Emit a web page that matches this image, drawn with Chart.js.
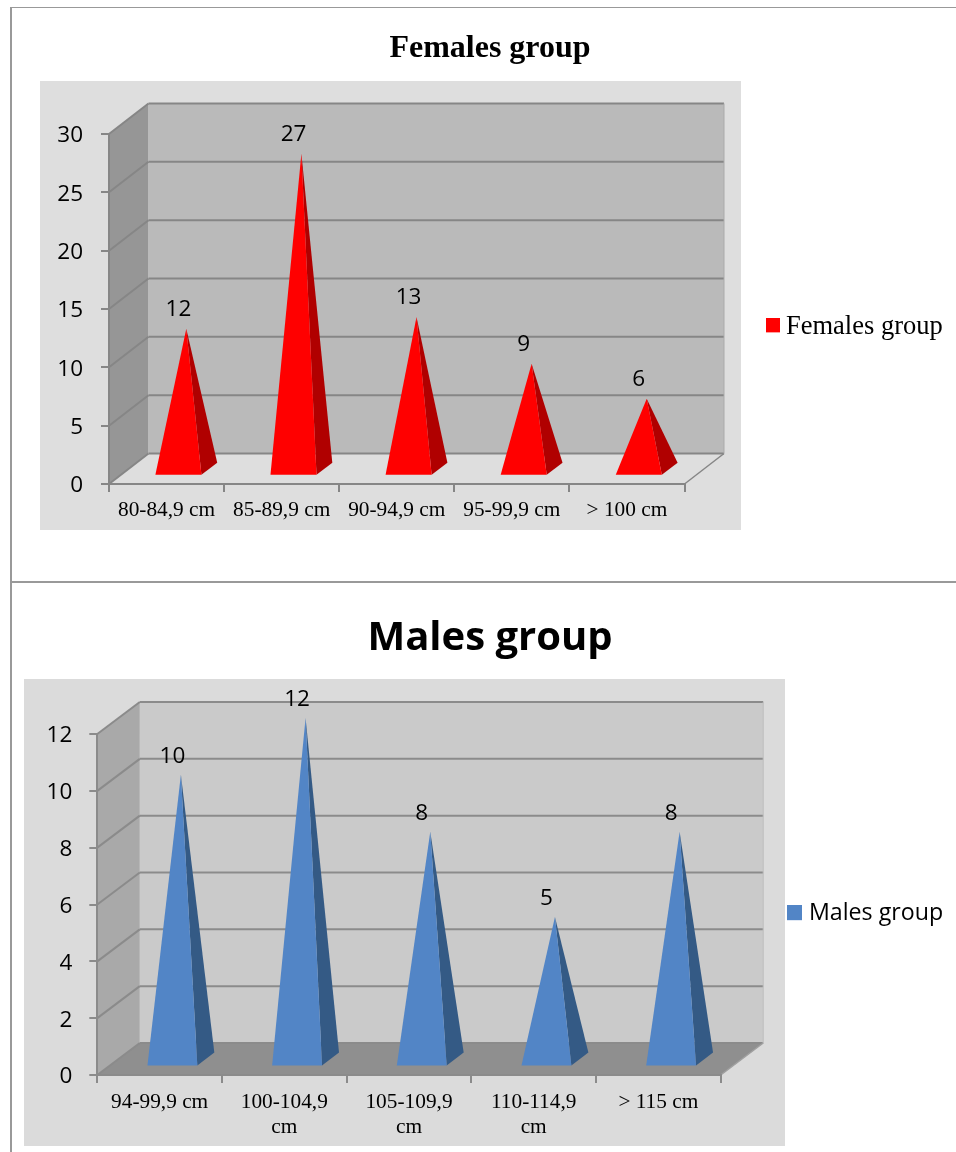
<!DOCTYPE html>
<html><head><meta charset="utf-8">
<style>
html,body{margin:0;padding:0;background:#fff;width:956px;height:1152px;overflow:hidden}
canvas{position:absolute;left:0}
.b{position:absolute;background:#999}
</style>
<script src="https://cdn.jsdelivr.net/npm/chart.js@4"></script>
</head><body>
<div class="b" style="left:10px;top:7px;width:946px;height:1px"></div>
<div class="b" style="left:10px;top:7px;width:2px;height:1145px"></div>
<div class="b" style="left:10px;top:581px;width:946px;height:2px"></div>
<canvas id="c1" width="956" height="581" style="top:0"></canvas>
<canvas id="c2" width="956" height="568" style="top:584px"></canvas>
<script>
const femaleCategories = ['80-84,9 cm','85-89,9 cm','90-94,9 cm','95-99,9 cm','> 100 cm'];
const femaleValues = [12,27,13,9,6];
const maleCategories = ['94-99,9 cm',['100-104,9','cm'],['105-109,9','cm'],['110-114,9','cm'],'> 115 cm'];
const maleValues = [10,12,8,5,8];

const SERIF = '"Liberation Serif"', SANS = '"Open Sans"';

const pyramid3d = {
  id:'pyramid3d',
  beforeDraw(chart, args, o){
    const {ctx, chartArea:a, scales:{y}} = chart;
    const poly = (pts, fill) => { ctx.beginPath(); pts.forEach((p,i)=> i?ctx.lineTo(p[0],p[1]):ctx.moveTo(p[0],p[1])); ctx.closePath(); ctx.fillStyle=fill; ctx.fill(); };
    const line = (x1,y1,x2,y2) => { ctx.beginPath(); ctx.moveTo(x1,y1); ctx.lineTo(x2,y2); ctx.stroke(); };
    ctx.save();
    ctx.fillStyle = o.panelColor; ctx.fillRect(...o.panel);
    const dx=o.dx, dy=o.dy;
    poly([[a.left,a.top],[a.left+dx,a.top+dy],[a.left+dx,a.bottom+dy],[a.left,a.bottom]], o.sideColor);
    poly([[a.left+dx,a.top+dy],[a.right+dx,a.top+dy],[a.right+dx,a.bottom+dy],[a.left+dx,a.bottom+dy]], o.backColor);
    poly([[a.left,a.bottom],[a.left+dx,a.bottom+dy],[a.right+dx,a.bottom+dy],[a.right,a.bottom]], o.floorColor);
    ctx.strokeStyle=o.gridColor; ctx.lineWidth=2;
    y.ticks.forEach(t=>{
      const py=y.getPixelForValue(t.value);
      line(a.left,py,a.left+dx,py+dy);
      line(a.left+dx,py+dy,a.right+dx,py+dy);
    });
    ctx.lineWidth=1.5; ctx.strokeStyle=o.edgeColor;
    line(a.right,a.bottom,a.right+dx,a.bottom+dy);
    ctx.lineWidth=1; ctx.strokeStyle=o.wallEdge;
    line(a.right+dx,a.top+dy,a.right+dx,a.bottom+dy);
    ctx.restore();
  },
  beforeDatasetDraw(chart, args, o){
    const {ctx, scales:{y}} = chart, meta=args.meta, ds=chart.data.datasets[args.index];
    const dx=o.dx, dy=o.dy, y0=y.getPixelForValue(0);
    ctx.save();
    meta.data.forEach((el,i)=>{
      const v=ds.data[i], hw=el.width/2, cx=el.x;
      const fl=[cx-hw+.3*dx, y0+.3*dy], fr=[cx+hw+.3*dx, y0+.3*dy], br=[cx+hw+.7*dx, y0+.7*dy];
      const apex=[cx+.5*dx, y.getPixelForValue(v)+.5*dy];
      ctx.fillStyle=o.barSide; ctx.beginPath(); ctx.moveTo(...fr); ctx.lineTo(...br); ctx.lineTo(...apex); ctx.closePath(); ctx.fill();
      ctx.fillStyle=o.barFront; ctx.beginPath(); ctx.moveTo(...fl); ctx.lineTo(...fr); ctx.lineTo(...apex); ctx.closePath(); ctx.fill();
      ctx.fillStyle='#000'; ctx.font=o.labelFont; ctx.textAlign='center'; ctx.textBaseline='middle';
      ctx.fillText(String(v), cx+.3*dx, apex[1]-o.labelGap);
    });
    ctx.restore();
    return false;
  },
  afterLayout(chart, args, o){
    const t=chart.titleBlock, l=chart.legend;
    const h=t.height; t.left=0; t.right=o.titleCx*2; t.top=o.titleCy-h/2; t.bottom=t.top+h;
    const pad=l.options.labels.padding, lh=l.options.labels.font.size*1.2;
    l.left=o.legendX-pad; l.right=l.left+400; l.top=o.legendCy-lh/2-pad; l.bottom=l.top+100;
    const s=chart.scales.y;
    if(!s._nudged){
      s._nudged=true;
      const orig=s.drawLabels.bind(s);
      s.drawLabels=function(area){ chart.ctx.save(); chart.ctx.translate(0,o.yLabelShift); orig(area); chart.ctx.restore(); };
    }
  }
};

// Legend marker: square at the right of a slightly wider transparent canvas, so the gap to the text can be tuned.
function squareStyle(color,size,shiftY){
  const c=document.createElement('canvas'); c.width=size+2; c.height=size+Math.abs(shiftY)*2;
  const g=c.getContext('2d'); g.fillStyle=color; g.fillRect(2,(c.height-size)/2+shiftY,size,size); return c;
}

function build(id, cats, vals, cfg){
  const gap=cfg.textX-cfg.squareX, W=cfg.square+2, w=W+2*(gap-cfg.square-cfg.legendSize/2);
  return new Chart(document.getElementById(id),{
    type:'bar',
    data:{labels:cats,datasets:[{label:cfg.name,data:vals,backgroundColor:cfg.barFront,barPercentage:1,categoryPercentage:.4}]},
    plugins:[pyramid3d],
    options:{
      responsive:false,animation:false,devicePixelRatio:1,
      layout:{padding:{left:0,right:956-cfg.right,top:cfg.top-cfg.titleSize,bottom:0}},
      scales:{
        x:{
          afterFit:s=>{s.height=cfg.height-cfg.bottom},
          grid:{drawOnChartArea:false,color:cfg.gridColor,lineWidth:2,tickLength:8},
          border:{color:cfg.gridColor,width:2},
          ticks:{color:'#000',font:{family:SERIF,size:21.33,lineHeight:1.17},padding:cfg.xPad,maxRotation:0,minRotation:0,autoSkip:false}
        },
        y:{
          min:0,max:cfg.max,
          afterFit:s=>{s.width=cfg.left},
          grid:{drawOnChartArea:false,color:cfg.gridColor,lineWidth:2,tickLength:8},
          border:{color:cfg.gridColor,width:2},
          ticks:{color:'#000',stepSize:cfg.step,font:{family:SANS,size:22.5},padding:cfg.yPad}
        }
      },
      plugins:{
        tooltip:{enabled:false},
        title:{display:true,text:cfg.name,color:'#000',padding:0,font:{family:cfg.titleFamily,size:cfg.titleSize,weight:'bold',lineHeight:1}},
        legend:{display:true,position:'chartArea',align:'start',labels:{
          usePointStyle:true,pointStyle:squareStyle(cfg.barFront,cfg.square,cfg.squareShift),pointStyleWidth:w,
          boxHeight:cfg.square,color:'#000',padding:12,font:{family:cfg.legendFamily,size:cfg.legendSize}
        }},
        pyramid3d:{
          panel:cfg.panel,panelColor:cfg.panelColor,backColor:cfg.backColor,sideColor:cfg.sideColor,floorColor:cfg.floorColor,
          gridColor:cfg.gridColor,edgeColor:cfg.edgeColor,wallEdge:cfg.wallEdge,dx:cfg.dx,dy:cfg.dy,
          barFront:cfg.barFront,barSide:cfg.barSide,labelFont:'22.5px '+SANS,labelGap:cfg.labelGap,yLabelShift:2,
          titleCx:490,titleCy:cfg.titleCy,legendX:cfg.squareX-w/2-W/2+cfg.square,legendCy:cfg.legendCy
        }
      }
    }
  });
}

build('c1',femaleCategories,femaleValues,{
  name:'Females group',height:581,left:109,right:684.5,top:134,bottom:484,max:30,step:5,dx:39.5,dy:-30.5,
  panel:[40,81,701,449],panelColor:'#dedede',backColor:'#bababa',sideColor:'#969696',floorColor:'#dedede',
  gridColor:'#868686',edgeColor:'#868686',wallEdge:'#aaaaaa',barFront:'#ff0000',barSide:'#b00000',
  titleFamily:SERIF,titleSize:32,titleCy:49,legendFamily:SERIF,legendSize:26.5,squareX:766,textX:786,square:14,squareShift:-2,legendCy:330,
  xPad:6,yPad:18,labelGap:19
});
build('c2',maleCategories,maleValues,{
  name:'Males group',height:568,left:97.3,right:720.7,top:150,bottom:491,max:12,step:2,dx:42.5,dy:-32,
  panel:[24,95,761,467],panelColor:'#dbdbdb',backColor:'#cacaca',sideColor:'#a9a9a9',floorColor:'#8f8f8f',
  gridColor:'#8b8b8b',edgeColor:'#a0a0a0',wallEdge:'#bdbdbd',barFront:'#5285c6',barSide:'#345a85',
  titleFamily:SANS,titleSize:40,titleCy:55,legendFamily:SANS,legendSize:23.2,squareX:787,textX:809,square:15,squareShift:-1,legendCy:332,
  xPad:6.5,yPad:17,labelGap:18
});
</script>
</body></html>
